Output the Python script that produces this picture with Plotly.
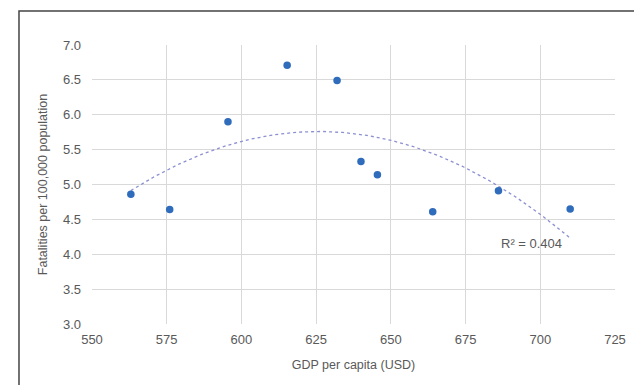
import numpy as np
import plotly.graph_objects as go

gdp = [563, 576, 595.5, 615.3, 632, 640, 645.5, 664, 686, 710]
fatalities = [4.86, 4.64, 5.90, 6.71, 6.49, 5.33, 5.14, 4.61, 4.91, 4.65]
x_ticks = [550, 575, 600, 625, 650, 675, 700, 725]
y_ticks = [3.0, 3.5, 4.0, 4.5, 5.0, 5.5, 6.0, 6.5, 7.0]
r2_label = "R² = 0.404"

coef = np.polyfit(gdp, fatalities, 2)
xs = np.linspace(min(gdp), max(gdp), 200)
ys = np.polyval(coef, xs)

fig = go.Figure()
fig.add_trace(go.Scatter(x=xs, y=ys, mode="lines",
                         line=dict(color="#8c90d2", width=1.3, dash="dot"),
                         hoverinfo="skip", showlegend=False))
fig.add_trace(go.Scatter(x=gdp, y=fatalities, mode="markers",
                         marker=dict(color="#2f6cbb", size=7.5),
                         showlegend=False))

font_family = "Liberation Sans, Arial, sans-serif"
fig.update_layout(
    width=634, height=385,
    margin=dict(l=92, r=19, t=45, b=61),
    paper_bgcolor="white", plot_bgcolor="white",
    font=dict(family=font_family, color="#595959", size=12),
    xaxis=dict(range=[550, 725], tickvals=x_ticks, showgrid=True,
               gridcolor="#d9d9d9", gridwidth=1, zeroline=False,
               tickfont=dict(size=13, color="#595959"),
               ticklabelstandoff=6, automargin=False,
               title=dict(text="GDP per capita (USD)", font=dict(size=12.5, color="#595959"), standoff=14),
               ticks=""),
    yaxis=dict(range=[3.0, 7.0], tickvals=y_ticks, tickformat=".1f", showgrid=True,
               gridcolor="#d9d9d9", gridwidth=1, zeroline=False,
               tickfont=dict(size=13, color="#595959"),
               ticklabelstandoff=10, automargin=False,
               title=dict(text="Fatalities per 100,000 population", font=dict(size=12.5, color="#595959"), standoff=12),
               ticks=""),
    shapes=[dict(type="rect", xref="paper", yref="paper",
                 x0=-0.1396, y0=-1.0, x1=2.0, y1=1.1219,
                 line=dict(color="#444444", width=1.5), fillcolor="rgba(0,0,0,0)", layer="above")],
    annotations=[dict(x=697, y=4.15, xref="x", yref="y", showarrow=False,
                      text=r2_label, font=dict(size=13, color="#595959"))],
)

fig.write_html("out.html", config={"displayModeBar": False},
               post_script="document.body.style.margin='0';document.body.style.overflow='hidden';")
